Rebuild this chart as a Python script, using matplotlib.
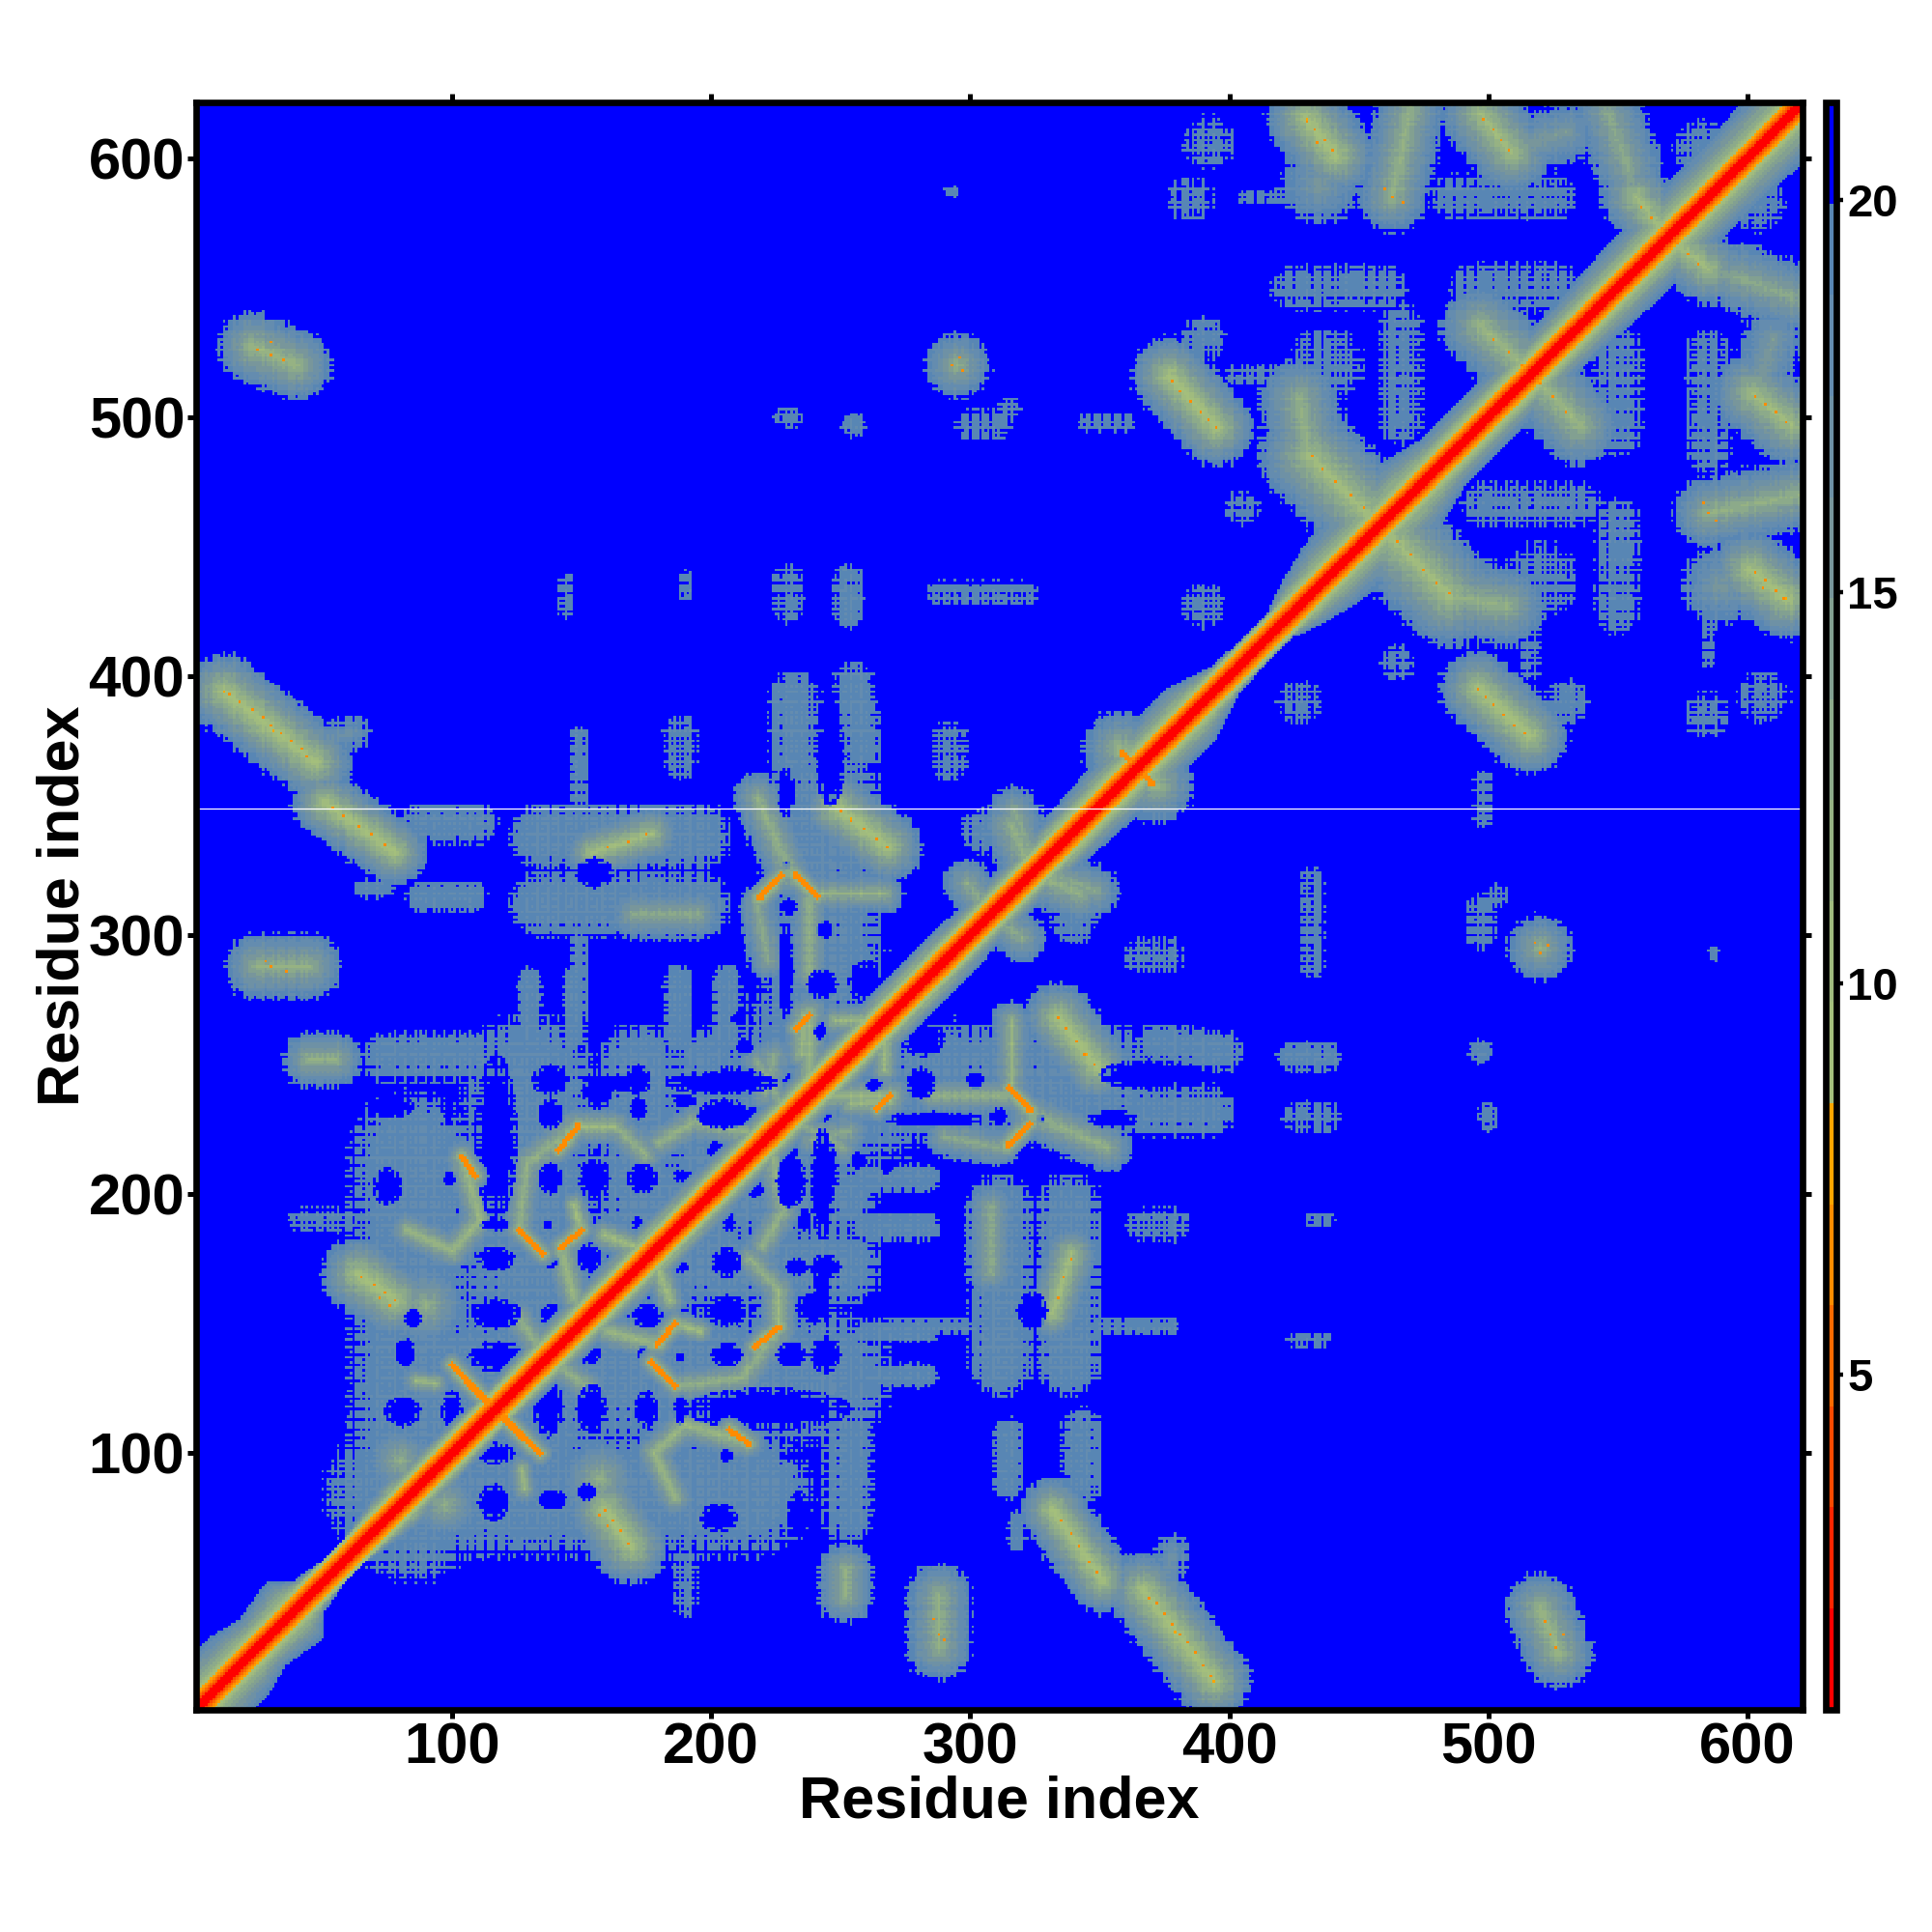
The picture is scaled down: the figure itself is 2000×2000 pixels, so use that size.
import numpy as np
import matplotlib
matplotlib.use('Agg')
import matplotlib.pyplot as plt
from matplotlib.colors import ListedColormap, BoundaryNorm
from matplotlib.cm import ScalarMappable

plt.rcParams['font.family'] = ['Liberation Sans', 'DejaVu Sans']
plt.rcParams['font.weight'] = 'bold'

n_residues = 621
blank_residue = 349

# colour scale of the distance map
level_bounds = [0.73, 2.02, 3.31, 4.6, 5.89, 7.18, 8.47, 9.76, 11.05, 12.34, 13.63,
                14.92, 16.21, 17.5, 18.79, 19.96, 21.25]
level_colors = ['#ff0000', '#ff2500', '#fb4a00', '#fb6a00', '#ff8c00', '#ffa500',
                '#a4bf7c', '#a0bb7e', '#96b283', '#8caa8a', '#82a091', '#78969b',
                '#6e91a5', '#648caf', '#5886b4', '#0000ff']

# diagonal band: distance against offset from the diagonal
band_offsets = [0, 1, 2, 3, 4, 5, 6, 7, 8]
band_values = [1.5, 1.5, 1.5, 3.5, 5.5, 6.8, 7.8, 9.5, 11]
# how far the band reaches from the diagonal, along the diagonal
band_knots = [0, 19, 27, 39, 45, 53, 63, 80, 110, 140, 180, 230, 280, 320, 350, 385, 398,
              405, 420, 428, 440, 470, 482, 530, 550, 621]
band_widths = [24, 22, 18, 22, 12, 9, 9, 16, 12, 14, 16, 14, 16, 14, 18, 20, 11,
               10, 10, 16, 22, 24, 18, 18, 20, 24]

# wide contact regions below the diagonal: x0, y0, x1, y1, half width, closest distance
contact_fills = [
    (75, 85, 215, 85, 25, 18.8), (110, 130, 243, 130, 27, 18.8), (170, 172, 250, 172, 16, 18.8),
    (175, 198, 250, 198, 14, 18.8), (260, 130, 283, 130, 5, 19), (260, 147, 283, 147, 5, 19),
    (260, 187, 283, 187, 6, 19), (260, 206, 283, 206, 6, 19),
    (225, 240, 262, 240, 28, 18.8), (190, 42, 190, 60, 5, 19.5), (253, 75, 253, 110, 10, 19),
    (315, 88, 315, 108, 6, 19), (343, 88, 343, 110, 8, 19), (318, 66, 318, 74, 4, 19.2),
    (312, 135, 312, 195, 13, 18.8), (338, 135, 338, 195, 13, 18.8), (270, 149, 378, 149, 3.5, 19.2),
    (285, 243, 350, 243, 24, 18.8), (340, 305, 340, 305, 9, 19), (368, 232, 392, 232, 10, 19),
    (372, 258, 398, 255, 8, 19), (424, 253, 438, 253, 6, 19), (426, 230, 438, 230, 6, 19.5),
    (432, 190, 438, 190, 3, 19.5), (425, 144, 437, 144, 3, 19.5), (367, 188, 378, 188, 7, 19.5),
    (366, 292, 376, 292, 7, 19.5), (432, 288, 432, 322, 5, 19.5), (497, 300, 497, 310, 6, 19.5),
    (498, 345, 498, 360, 4, 19.5), (497, 255, 497, 255, 5, 19), (500, 228, 500, 232, 4, 19.5),
    (587, 293, 587, 293, 3, 19.5), (503, 315, 503, 315, 5, 19.5), (530, 390, 530, 390, 9, 19.2),
    (427, 390, 427, 390, 9, 19.5), (465, 405, 465, 405, 7, 19.5), (584, 385, 584, 385, 9, 19.5),
    (606, 392, 606, 392, 10, 19.5), (520, 437, 520, 437, 15, 19.4), (550, 425, 550, 460, 9, 19.4),
    (498, 466, 535, 466, 9, 19.4), (550, 495, 550, 525, 10, 19.4), (585, 487, 585, 525, 9, 19.4),
    (516, 402, 516, 421, 4, 19.5), (585, 405, 585, 422, 2.5, 19.5), (604, 582, 604, 582, 11, 19.4),
]
contact_ridges = [
    (367, 47, 394, 12, 15, 9), (527, 23, 520, 40, 14, 11), (288, 25, 288, 45, 13, 12),
    (252, 45, 252, 55, 11, 12), (332, 78, 351, 51, 13, 9), (378, 62, 375, 50, 7, 17),
    (339, 177, 332, 154, 11, 10), (308, 170, 308, 195, 10, 13), (334, 268, 349, 249, 14, 9),
    (285, 238, 315, 238, 8, 12), (290, 222, 311, 218, 8, 13), (323, 231, 353, 218, 10, 12),
    (316, 267, 316, 240, 8, 12), (324, 324, 342, 316, 12, 12), (317, 348, 325, 327, 10, 13),
    (308, 308, 320, 299, 10, 13), (358, 372, 372, 358, 15, 11), (159, 78, 169, 64, 15, 9),
    (178, 100, 186, 83, 8, 11), (178, 100, 190, 111, 8, 11), (190, 111, 214, 104, 8, 11),
    (97, 80, 97, 80, 14, 12), (157, 90, 157, 90, 16, 12), (127, 94, 128, 86, 6, 11),
    (140, 134, 152, 126, 8, 12), (160, 147, 179, 142, 8, 11), (186, 126, 196, 127, 8, 12),
    (196, 127, 212, 129, 8, 12), (212, 129, 226, 148, 9, 12), (226, 148, 226, 163, 8, 11),
    (226, 163, 215, 175, 8, 12), (180, 170, 184, 159, 7, 10), (186, 150, 196, 147, 6, 10),
    (222, 222, 228, 194, 9, 12), (228, 194, 220, 180, 8, 12), (245, 238, 270, 238, 8, 11),
    (235, 227, 251, 218, 8, 13), (254, 235, 269, 236, 8, 11), (267, 259, 267, 248, 7, 11),
    (239, 221, 253, 224, 9, 13), (496, 395, 516, 377, 15, 9), (459, 457, 485, 431, 20, 10),
    (485, 431, 507, 427, 16, 12), (585, 463, 620, 470, 14, 12), (601, 441, 615, 430, 16, 9),
    (590, 435, 590, 435, 16, 15), (519, 514, 535, 497, 16, 11), (602, 509, 617, 497, 16, 10),
    (610, 530, 603, 508, 12, 15), (571, 568, 585, 557, 14, 10), (585, 557, 596, 554, 11, 14),
    (596, 554, 618, 546, 14, 13), (520, 295, 520, 295, 13, 12),
]

# blue gaps inside the contact regions: x, y, half width, half height
gaps = [
    (116, 100, 7, 3.5), (137, 118, 5, 10), (154, 117, 5, 8), (175, 117, 4, 6), (188, 117, 2, 5),
    (222, 117, 27, 7), (116, 81, 5, 6), (139, 82, 5, 3), (152, 85, 3, 3), (233, 99, 5, 2),
    (203, 75, 6, 5), (234, 76, 4, 8), (206, 99, 2, 2), (153, 139, 4, 4), (174, 138, 2, 3),
    (188, 137, 2, 1.5), (206, 138, 5, 4), (231, 138, 5, 4), (244, 138, 5, 6), (175.5, 153, 5, 4),
    (206, 155, 7, 5), (240, 156, 6, 5), (188, 172, 3, 2), (206, 173.5, 5, 5), (233, 172, 4, 3),
    (244, 172, 5, 4), (207, 189.5, 2, 4), (236, 190, 2, 4), (217, 202, 3, 3), (231, 205, 5, 8),
    (244, 210, 4, 10), (204, 243, 18, 4), (163, 243, 10, 3), (215, 230, 5, 3), (198, 230, 3, 3),
    (282, 260, 7, 6), (281, 243, 5, 5), (302, 244, 3, 3), (286, 229, 16, 2.5), (311, 230, 3, 3),
    (327, 229, 1.5, 1.5), (355, 229, 8, 3), (369, 246, 16, 5), (230, 242, 2, 2), (263, 242, 3, 2),
    (243, 230, 3, 2), (257, 213, 3, 3), (268, 211, 2, 3), (324, 155, 5, 6),
]

# orange strand pairs: x0, y0, x1, y1
strand_pairs = [
    (100.5, 133.6, 114, 120), (120, 113, 134, 100), (177, 135, 186, 126), (179.4, 142, 186, 150),
    (217, 141, 226.5, 149), (207, 109, 214.5, 103.7), (314, 218.5, 323, 227), (315, 241, 323.5, 232),
    (264, 233, 269, 238), (359, 370, 370.5, 358),
]

# single close contacts
spot_x = [369, 372, 375, 378, 381, 384, 387, 390, 393, 526, 524, 522, 529, 288, 286, 290,
          335, 339, 342, 346, 349, 334, 337, 341, 344, 348, 159, 162, 165, 168, 157, 160,
          496, 499, 502, 506, 510, 514, 465, 470, 475, 480, 485, 603, 607, 611, 614, 606,
          603, 607, 611, 615, 573, 577, 581, 520, 525, 530, 520, 523, 518, 339, 336, 334,
          585, 588, 583]
spot_y = [44, 42, 38, 34, 30, 27, 23, 18, 14, 25, 30, 35, 30, 30, 36, 28,
          74, 69, 64, 58, 54, 268, 264, 259, 254, 250, 78, 74, 70, 65, 76, 72,
          395, 392, 389, 385, 381, 378, 452, 447, 441, 436, 432, 440, 437, 433, 430, 434,
          508, 505, 502, 498, 567, 563, 559, 513, 508, 502, 293, 296, 297, 175, 168, 160,
          463, 460, 467]

# per residue shift behind the hatching and the rough edges of the contact regions
residue_shift_a = [0.25, -0.15, 0.35, -0.3, 0.1, -0.4, 0.2, 0.3, -0.25, 0.05, -0.35, 0.4, -0.1, 0.15, -0.2, 0.3, -0.3]
residue_shift_b = [0.1, -0.2, 0.05, 0.2, -0.1, -0.25, 0.15, 0.25, -0.05, -0.15, 0.1]

x_ticks = [100, 200, 300, 400, 500, 600]
bar_ticks = [5, 10, 15, 20]


def segment_distance(xx, yy, x0, y0, x1, y1):
    dx, dy = x1 - x0, y1 - y0
    length2 = dx * dx + dy * dy
    if length2 == 0:
        return np.hypot(xx - x0, yy - y0)
    t = np.clip(((xx - x0) * dx + (yy - y0) * dy) / length2, 0, 1)
    return np.hypot(xx - x0 - t * dx, yy - y0 - t * dy)


def paint(dist, xx, yy, features, power):
    for x0, y0, x1, y1, w, core in features:
        u = segment_distance(xx, yy, x0, y0, x1, y1) / w
        val = np.where(u <= 1, core + (20.3 - core) * u ** power, 20.3 + (u - 1) * 6)
        dist = np.where(u <= 1.25, np.minimum(dist, val), dist)
    return dist


def build_map():
    residues = np.arange(1, n_residues + 1)
    xx, yy = np.meshgrid(residues, residues)
    dist = np.full(xx.shape, 23.0)

    dist = paint(dist, xx, yy, contact_fills, 3)
    dist = paint(dist, xx, yy, contact_ridges, 0.8)
    dist = np.minimum(dist, dist.T)

    for x, y, rx, ry in gaps:
        e = np.sqrt(((xx - x) / rx) ** 2 + ((yy - y) / ry) ** 2)
        lift = np.where(e <= 0.85, 21.8, np.where(e <= 1.2, 20.2, 0))
        dist = np.maximum(dist, np.maximum(lift, lift.T))

    shift = np.array(residue_shift_a)[residues % len(residue_shift_a)] \
        + np.array(residue_shift_b)[residues % len(residue_shift_b)]
    dist = dist + shift[:, None] + shift[None, :]

    # strands and spots go on top of the gaps
    for x0, y0, x1, y1 in strand_pairs:
        d = segment_distance(xx, yy, x0, y0, x1, y1)
        halo = np.where(d <= 5, 10 + 9 * d / 5, 23.0)
        dist = np.minimum(dist, np.minimum(halo, halo.T))
        core = np.where(d <= 1.1, 6.5, 23.0)
        dist = np.minimum(dist, np.minimum(core, core.T))
    for x, y in zip(spot_x, spot_y):
        dist[y - 1, x - 1] = 6.5
        dist[x - 1, y - 1] = 6.5

    # diagonal band last
    offset = np.abs(xx - yy).astype(float)
    reach = np.interp((xx + yy) / 2, band_knots, band_widths)
    val = np.interp(offset, band_offsets, band_values)
    outer = 11 + 9 * (np.clip(offset - 8, 0, None) / np.clip(reach - 8, 1, None)) ** 0.9
    val = np.where(offset > 8, outer, val)
    inside = offset <= reach
    dist[inside] = np.minimum(dist[inside], val[inside])
    return np.minimum(dist, 21.0)


def main():
    dist = build_map()
    cmap = ListedColormap(level_colors)
    norm = BoundaryNorm(level_bounds, cmap.N)

    fig = plt.figure(figsize=(10, 10), dpi=200)
    # pixel positions of the frame in the 2000 px figure
    ax = fig.add_axes([203 / 2000, 1 - 1769.5 / 2000, (1866 - 203) / 2000, (1769.5 - 106) / 2000])
    ax.imshow(dist, origin='lower', cmap=cmap, norm=norm, aspect='auto', interpolation='nearest',
              extent=(0.5, n_residues + 0.5, 0.5, n_residues + 0.5))
    ax.axhline(blank_residue, color='white', lw=0.45)
    ax.set_xlim(1.2, 621.3)
    ax.set_ylim(0.9, 621.6)
    ax.set_xticks(x_ticks)
    ax.set_yticks(x_ticks)
    ax.tick_params(axis='both', top=True, right=True, length=3.2, width=1.8, labelsize=21.5)
    ax.tick_params(axis='x', pad=1.5)
    ax.tick_params(axis='y', pad=1)
    for spine in ax.spines.values():
        spine.set_linewidth(2.4)
    ax.set_xlabel('Residue index', fontsize=22, fontweight='bold')
    ax.set_ylabel('Residue index', fontsize=22, fontweight='bold')
    ax.xaxis.set_label_coords(0.5, -0.041)
    ax.yaxis.set_label_coords(-0.065, 0.5)

    cax = fig.add_axes([1890 / 2000, 1 - 1769.5 / 2000, 11 / 2000, (1769.5 - 106) / 2000])
    bar = fig.colorbar(ScalarMappable(norm=norm, cmap=cmap), cax=cax, spacing='proportional',
                       ticks=bar_ticks, drawedges=False)
    bar.outline.set_linewidth(2.4)
    bar.ax.tick_params(length=2.5, width=1.6, labelsize=17, pad=1.5)
    bar.ax.minorticks_off()

    plt.savefig('out.png', dpi=200)
    plt.close()


if __name__ == "__main__":
    main()
